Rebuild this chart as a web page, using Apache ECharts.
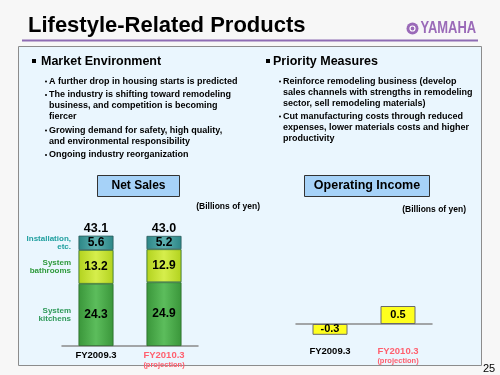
<!DOCTYPE html>
<html>
<head>
<meta charset="utf-8">
<script src="https://cdn.jsdelivr.net/npm/echarts@6/dist/echarts.min.js"></script>
<style>
html,body{margin:0;padding:0;background:#f7f7f7}
#main{width:500px;height:375px}
</style>
</head>
<body>
<div id="main"></div>
<script>
// data
var categories = ['FY2009.3', 'FY2010.3'];
var kitchens = [24.3, 24.9];
var bathrooms = [13.2, 12.9];
var installation = [5.6, 5.2];
var netSalesTotals = [43.1, 43.0];
var operatingIncome = [-0.3, 0.5];
var segmentNames = ['System\nkitchens', 'System\nbathrooms', 'Installation,\netc.'];
var segmentColors = ['#2f9a5a', '#2f9a3c', '#1f9f9f'];

var marketLines = [
    ['A further drop in housing starts is predicted'],
    ['The industry is shifting toward remodeling', 'business, and competition is becoming', 'fiercer'],
    ['Growing demand for safety, high quality,', 'and environmental responsibility'],
    ['Ongoing industry reorganization']
];
var priorityLines = [
    ['Reinforce remodeling business (develop', 'sales channels with strengths in remodeling', 'sector, sell remodeling materials)'],
    ['Cut manufacturing costs through reduced', 'expenses, lower materials costs and higher', 'productivity']
];

var FONT = "'Liberation Sans', Arial, sans-serif";

function cyl(edge, mid){
    return new echarts.graphic.LinearGradient(0, 0, 1, 0, [
        {offset: 0, color: edge}, {offset: 0.5, color: mid}, {offset: 1, color: edge}
    ]);
}

function catLabel(value, idx){
    if (idx == 0) return '{a|' + value + '}';
    return '{b|' + value + '}\n{c|(projection)}';
}
var catRich = {
    a: {color: '#000', fontWeight: 'bold', fontSize: 9.5, fontFamily: FONT, lineHeight: 10},
    b: {color: '#ff5f6e', fontWeight: 'bold', fontSize: 9.5, fontFamily: FONT, lineHeight: 10},
    c: {color: '#ff5f6e', fontWeight: 'bold', fontSize: 7.5, fontFamily: FONT, lineHeight: 9}
};

var segLabel = {
    show: true, position: 'inside', color: '#000',
    fontWeight: 'bold', fontSize: 12, fontFamily: FONT,
    formatter: function(p){ return p.value.toFixed(1); }
};

var chart = echarts.init(document.getElementById('main'));
var option = {
    backgroundColor: '#f7f7f7',
    animation: false,
    grid: [
        {left: 62, top: 218, width: 136, height: 128},
        {left: 296, top: 288, width: 136, height: 54}
    ],
    xAxis: [
        {
            type: 'category', gridIndex: 0, data: categories,
            axisLine: {lineStyle: {color: '#8a8a8a', width: 1.5}},
            axisTick: {inside: true, length: 3, lineStyle: {color: '#8a8a8a'}},
            axisLabel: {interval: 0, margin: 4, verticalAlign: 'top', formatter: catLabel, rich: catRich}
        },
        {
            type: 'category', gridIndex: 1, data: categories,
            axisLine: {onZero: true, lineStyle: {color: '#8a8a8a', width: 1.5}},
            axisTick: {inside: true, length: 3, lineStyle: {color: '#8a8a8a'}},
            axisLabel: {interval: 0, margin: 4, verticalAlign: 'top', formatter: catLabel, rich: catRich}
        }
    ],
    yAxis: [
        {type: 'value', gridIndex: 0, min: 0, max: 50, show: false},
        {type: 'value', gridIndex: 1, min: -0.5, max: 1, show: false}
    ],
    series: [
        {
            type: 'bar', name: 'System kitchens', stack: 'ns', barWidth: 35,
            xAxisIndex: 0, yAxisIndex: 0, data: kitchens,
            itemStyle: {color: cyl('#3a963a', '#5cbd5c'), borderColor: '#2a6a2a', borderWidth: 0.8},
            label: segLabel
        },
        {
            type: 'bar', name: 'System bathrooms', stack: 'ns', barWidth: 35,
            xAxisIndex: 0, yAxisIndex: 0, data: bathrooms,
            itemStyle: {color: cyl('#b2d21e', '#d6ee4c'), borderColor: '#2a6a2a', borderWidth: 0.8},
            label: segLabel
        },
        {
            type: 'bar', name: 'Installation, etc.', stack: 'ns', barWidth: 35,
            xAxisIndex: 0, yAxisIndex: 0, data: installation,
            itemStyle: {color: cyl('#2c8686', '#5cb0b0'), borderColor: '#2a5a5a', borderWidth: 0.8},
            label: segLabel
        },
        {
            type: 'bar', name: 'total', stack: 'ns', barWidth: 35,
            xAxisIndex: 0, yAxisIndex: 0, data: [0, 0],
            itemStyle: {color: 'transparent'},
            label: {
                show: true, position: 'top', distance: 1, color: '#000',
                fontWeight: 'bold', fontSize: 12.5, fontFamily: FONT,
                formatter: function(p){ return netSalesTotals[p.dataIndex].toFixed(1); }
            }
        },
        {
            type: 'bar', name: 'Operating Income', barWidth: 35,
            xAxisIndex: 1, yAxisIndex: 1, data: operatingIncome,
            itemStyle: {color: '#ffff1e', borderColor: '#6a6a6a', borderWidth: 1},
            label: {
                show: true, position: 'inside', color: '#000',
                fontWeight: 'bold', fontSize: 11, fontFamily: FONT,
                formatter: function(p){ return p.value.toFixed(1); }
            }
        }
    ]
};
chart.setOption(option);

// slide texts and frames
var els = [];
function txt(x, y, s, font, fill, align){
    els.push({type: 'text', style: {x: x, y: y, text: s, font: font, fill: fill || '#000',
        textAlign: align || 'left', textVerticalAlign: 'middle'}});
}
els.push({type: 'rect', z: -1, shape: {x: 18.5, y: 46.5, width: 463, height: 319},
    style: {fill: '#eaf6fe', stroke: '#8c8c8c', lineWidth: 1}});
txt(28, 26, 'Lifestyle-Related Products', 'bold 22px ' + FONT);
els.push({type: 'line', shape: {x1: 22, y1: 40.5, x2: 478, y2: 40.5}, style: {stroke: '#8e6cb4', lineWidth: 2}});
// logo
els.push({type: 'circle', shape: {cx: 412.5, cy: 28.5, r: 6}, style: {fill: '#9a6ab8'}});
els.push({type: 'circle', shape: {cx: 412.5, cy: 28.5, r: 2.5}, style: {fill: 'none', stroke: '#fff', lineWidth: 1.2}});
els.push({type: 'text', x: 420.5, y: 29, scaleX: 0.81,
    style: {x: 0, y: 0, text: 'YAMAHA', font: 'bold 16px ' + FONT, fill: '#9a6ab8', textAlign: 'left', textVerticalAlign: 'middle'}});

// section headers
els.push({type: 'rect', shape: {x: 32, y: 59, width: 4, height: 4}, style: {fill: '#000'}});
txt(41, 61.5, 'Market Environment', 'bold 12.5px ' + FONT);
els.push({type: 'rect', shape: {x: 266, y: 59, width: 4, height: 4}, style: {fill: '#000'}});
txt(273, 61.5, 'Priority Measures', 'bold 12.5px ' + FONT);

function bullets(groups, xDot, xText, y0, lineGap, groupGap){
    var y = y0;
    groups.forEach(function(g){
        els.push({type: 'circle', shape: {cx: xDot, cy: y, r: 1}, style: {fill: '#000'}});
        g.forEach(function(line){
            txt(xText, y, line, 'bold 9px ' + FONT);
            y += lineGap;
        });
        y += groupGap - lineGap;
    });
}
bullets(marketLines, 46, 49, 81.5, 11, 13.5);
bullets(priorityLines, 280, 283, 81.5, 11, 13);

// chart title boxes
els.push({type: 'rect', shape: {x: 97.5, y: 175.5, width: 82, height: 21}, style: {fill: '#a6d2f8', stroke: '#333', lineWidth: 1}});
txt(138.5, 186, 'Net Sales', 'bold 12px ' + FONT, '#000', 'center');
els.push({type: 'rect', shape: {x: 304.5, y: 175.5, width: 125, height: 21}, style: {fill: '#a6d2f8', stroke: '#333', lineWidth: 1}});
txt(367, 186, 'Operating Income', 'bold 12.5px ' + FONT, '#000', 'center');
txt(260, 207, '(Billions of yen)', 'bold 8.5px ' + FONT, '#000', 'right');
txt(466, 210, '(Billions of yen)', 'bold 8.5px ' + FONT, '#000', 'right');

// segment names next to first bar, placed at segment middles
var segs = [kitchens, bathrooms, installation];
var cum = 0;
segs.forEach(function(arr, i){
    var mid = cum + arr[0] / 2;
    cum += arr[0];
    var p = chart.convertToPixel({gridIndex: 0}, [0, mid]);
    els.push({type: 'text', style: {x: 71, y: p[1], text: segmentNames[i], font: 'bold 8px ' + FONT,
        fill: segmentColors[i], textAlign: 'right', textVerticalAlign: 'middle', lineHeight: 8.5}});
});

txt(483, 369, '25', '11px ' + FONT);

chart.setOption({graphic: {elements: els}});
</script>
</body>
</html>
